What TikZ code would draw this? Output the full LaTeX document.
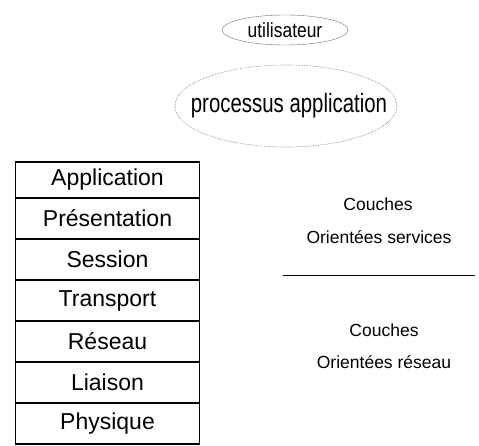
\documentclass[tikz,border=0pt]{standalone}
\usepackage{fontspec}
\setmainfont{Liberation Sans}
\usetikzlibrary{positioning}

\tikzset{
  couche/.style={draw,line width=1.2pt,outer sep=0pt,minimum width=184pt,minimum height=41pt,inner sep=0pt,font=\fontsize{23}{26}\selectfont},
  bulle/.style={draw=black!55},
  legende/.style={font=\fontsize{17.5}{20}\selectfont,inner sep=0pt}
}

\begin{document}
\begin{tikzpicture}[x=1pt,y=-1pt]
\useasboundingbox (0,0) rectangle (479,446);
\node[inner sep=0pt,font=\fontsize{20.5}{24}\selectfont] (util) at (285,30) {\scalebox{0.85}[1]{utilisateur}};
\draw[bulle,thin] (util.center) ellipse [x radius=63pt,y radius=15pt];
\node[inner sep=0pt,font=\fontsize{26.5}{30}\selectfont] (proc) at (289,106) {\scalebox{0.77}[1]{processus application}};
\draw[bulle,densely dotted,line width=0.6pt] (proc.center) ++(-3,0) ellipse [x radius=111pt,y radius=41pt];
% les sept couches
\node[couche,minimum height=36pt] (app) at (107.5,180) {Application};
\node[couche,below=0pt of app] (pres) {Présentation};
\node[couche,below=0pt of pres] (sess) {Session};
\node[couche,below=0pt of sess] (trans) {Transport};
\node[couche,below=0pt of trans] (res) {Réseau};
\node[couche,below=0pt of res] (liai) {Liaison};
\node[couche,below=0pt of liai] (phys) {Physique};
% legende a droite
\node[legende] (c1) at (378,204) {Couches};
\node[legende] (os) at (379,237) {Orientées services};
\coordinate (sepg) at (283,275);
\coordinate (sepd) at (475,275);
\draw (sepg) -- (sepd);
\node[legende] (c2) at (384,330) {Couches};
\node[legende] (or) at (384,362) {Orientées réseau};
\end{tikzpicture}
\end{document}
